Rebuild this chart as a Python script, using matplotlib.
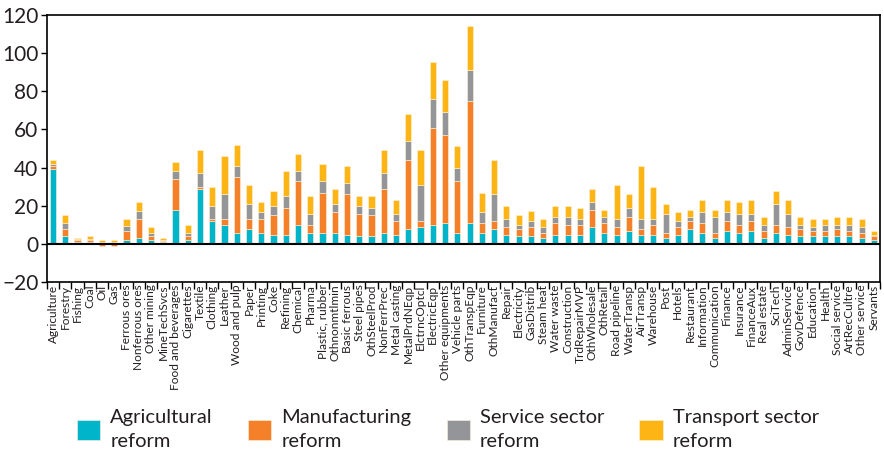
import matplotlib
matplotlib.use("Agg")
import matplotlib.pyplot as plt
import numpy as np

plt.rcParams['font.family'] = ['Lato', 'DejaVu Sans']

sectors = ['Agriculture', 'Forestry', 'Fishing', 'Coal', 'Oil', 'Gas', 'Ferrous ores',
           'Nonferrous ores', 'Other mining', 'MineTechSvcs', 'Food and beverages', 'Cigarettes',
           'Textile', 'Clothing', 'Leather', 'Wood and pulp', 'Paper', 'Printing', 'Coke',
           'Refining', 'Chemical', 'Pharma', 'Plastic, rubber', 'Othnonmtlmin', 'Basic ferrous',
           'Steel pipes', 'OthSteelProd', 'NonFerrPrec', 'Metal casting', 'MetalPrdNEqp',
           'ElctrncOptcl', 'ElectricEqp', 'Other equipments', 'Vehicle parts', 'OthTranspEqp',
           'Furniture', 'OthManufact', 'Repair', 'Electricity', 'GasDistrib', 'Steam heat',
           'Water waste', 'Construction', 'TrdRepairMVP', 'OthWholesale', 'OthRetail',
           'Road pipeline', 'WaterTransp', 'AirTransp', 'Warehouse', 'Post', 'Hotels',
           'Restaurant', 'Information', 'Communication', 'Finance', 'Insurance', 'FinanceAux',
           'Real estate', 'SciTech', 'AdminService', 'GovDefence', 'Education', 'Health',
           'Social service', 'ArtRecCultre', 'Other service', 'Servants']

agricultural = [39, 4, 1, 0.7, 0.2, 0.3, 2, 3, 2, 0.7, 17.8, 2,
                28.7, 11.9, 9.8, 5.8, 7.9, 5.8, 4.7, 4.7, 9.8, 5.8, 5.8, 5.8, 4.7,
                3.8, 3.8, 5.8, 4.7, 7.9, 8.7, 9.8, 10.8, 5.8, 10.8,
                5.8, 7.9, 4.7, 3.8, 3.8, 3, 4.7, 4.7, 4.7, 8.7, 5.8,
                4.7, 6.8, 4.7, 4.7, 3, 4.7, 7.7, 5.8, 3, 6.8, 5.8, 6.8,
                3, 5.8, 4.7, 3.8, 3.8, 3.8, 3.8, 3.8, 3, 1.9]
manufacturing = [1.8, 3.7, 1, 1.3, -1.3, -1.2, 4.8, 9.8, 1.8, 0.5, 16, 1.8,
                 1.2, 0.9, 3, 29, 4.9, 7, 10.2, 14.2, 23.1, 4, 21, 11, 21.2,
                 11.9, 11.1, 23.1, 7.2, 36, 3.2, 51.2, 46.2, 27.1, 64.2,
                 5, 4, 4, 3.9, 4.9, 2.8, 6.1, 5.1, 5.1, 9.1, 5,
                 4, 7, 3, 5.1, 2.8, 4, 4.2, 5, 2.8, 5.1, 4, 5.1,
                 3.8, 4, 4, 3.9, 3, 3, 3.9, 3, 2.8, 1.9]
service = [1, 3.1, 0.3, 0.3, 0.5, 0.5, 2.3, 4.2, 2, 0.8, 4.2, 2,
           7, 7, 13.1, 6, 8, 4, 4.9, 5.9, 5.1, 5.9, 6.1, 4, 5.9,
           4.1, 4, 8, 3.8, 10, 19.1, 14.9, 11.9, 7, 16.1,
           6, 14, 4.1, 2.1, 3, 2.9, 3, 4, 3, 4.1, 3,
           4.1, 5.1, 5.1, 3, 9.9, 3.2, 1.9, 6, 8, 4.9, 5.9, 3.8,
           3, 11, 7, 2.1, 1.9, 3, 2.1, 3, 2.9, 0.9]
transport = [2.2, 4.1, 0.5, 1.5, 1.2, 1.0, 3.8, 5, 3.1, 0.8, 5, 4,
             12.1, 10.1, 20.1, 11.2, 10.2, 5.1, 8, 13.2, 8.9, 9.1, 9.1, 8.1, 9.1,
             5, 5.9, 12.1, 7, 14.1, 18, 19.3, 17.1, 11.2, 23.3,
             10, 18, 7, 5.1, 5.3, 4.1, 6, 6, 6.1, 7, 4,
             18.2, 7, 28.1, 17.1, 5.1, 4.9, 4, 5.9, 4, 5.9, 6.2, 7,
             4, 7, 7, 4, 4.1, 3, 4, 4, 4.1, 2.1]

series = [('Agricultural\nreform', agricultural, '#00B5C9'),
          ('Manufacturing\nreform', manufacturing, '#F5802A'),
          ('Service sector\nreform', service, '#939598'),
          ('Transport sector\nreform', transport, '#FDB515')]

fig = plt.figure(figsize=(8.84, 4.59), dpi=100)
ax = fig.add_axes([0.053, 0.386, 0.9425, 0.581])

x = np.arange(len(sectors))
pos_bottom = np.zeros(len(sectors))
neg_bottom = np.zeros(len(sectors))
handles = []
for name, vals, col in series:
    v = np.array(vals, dtype=float)
    bottom = np.where(v >= 0, pos_bottom, neg_bottom)
    b = ax.bar(x, v, 0.5, bottom=bottom, color=col, edgecolor='#fff3d9',
               linewidth=0.4, label=name, zorder=2)
    handles.append(b)
    pos_bottom += np.where(v >= 0, v, 0)
    neg_bottom += np.where(v < 0, v, 0)

ax.axhline(0, color='black', lw=1.5, zorder=3)
ax.set_xlim(-0.5, len(sectors) - 0.5)
ax.set_ylim(-20, 120)
ax.set_yticks(np.arange(-20, 121, 20))
ax.tick_params(axis='y', labelsize=15, labelcolor='#231F20', length=4, width=1, pad=2)

# boundaries get tick marks, labels sit between them
ax.set_xticks(np.arange(-0.5, len(sectors), 1))
ax.set_xticklabels([])
ax.tick_params(axis='x', which='major', length=5, width=1)
ax.set_xticks(x, minor=True)
ax.set_xticklabels(sectors, minor=True, rotation=90, fontsize=8.6, color='#231F20')
ax.tick_params(axis='x', which='minor', length=0, pad=2)

for s in ax.spines.values():
    s.set_linewidth(1.2)
    s.set_color('black')

leg = fig.legend(handles=handles, loc='upper left', bbox_to_anchor=(0.087, 0.108),
                 ncol=4, frameon=False, fontsize=14.5, handlelength=1.15, handleheight=1.15,
                 handletextpad=0.5, columnspacing=1.75, borderaxespad=0, borderpad=0)
for t in leg.get_texts():
    t.set_color('#231F20')
    t.set_linespacing(1.45)

fig.savefig('out.png', dpi=100)
